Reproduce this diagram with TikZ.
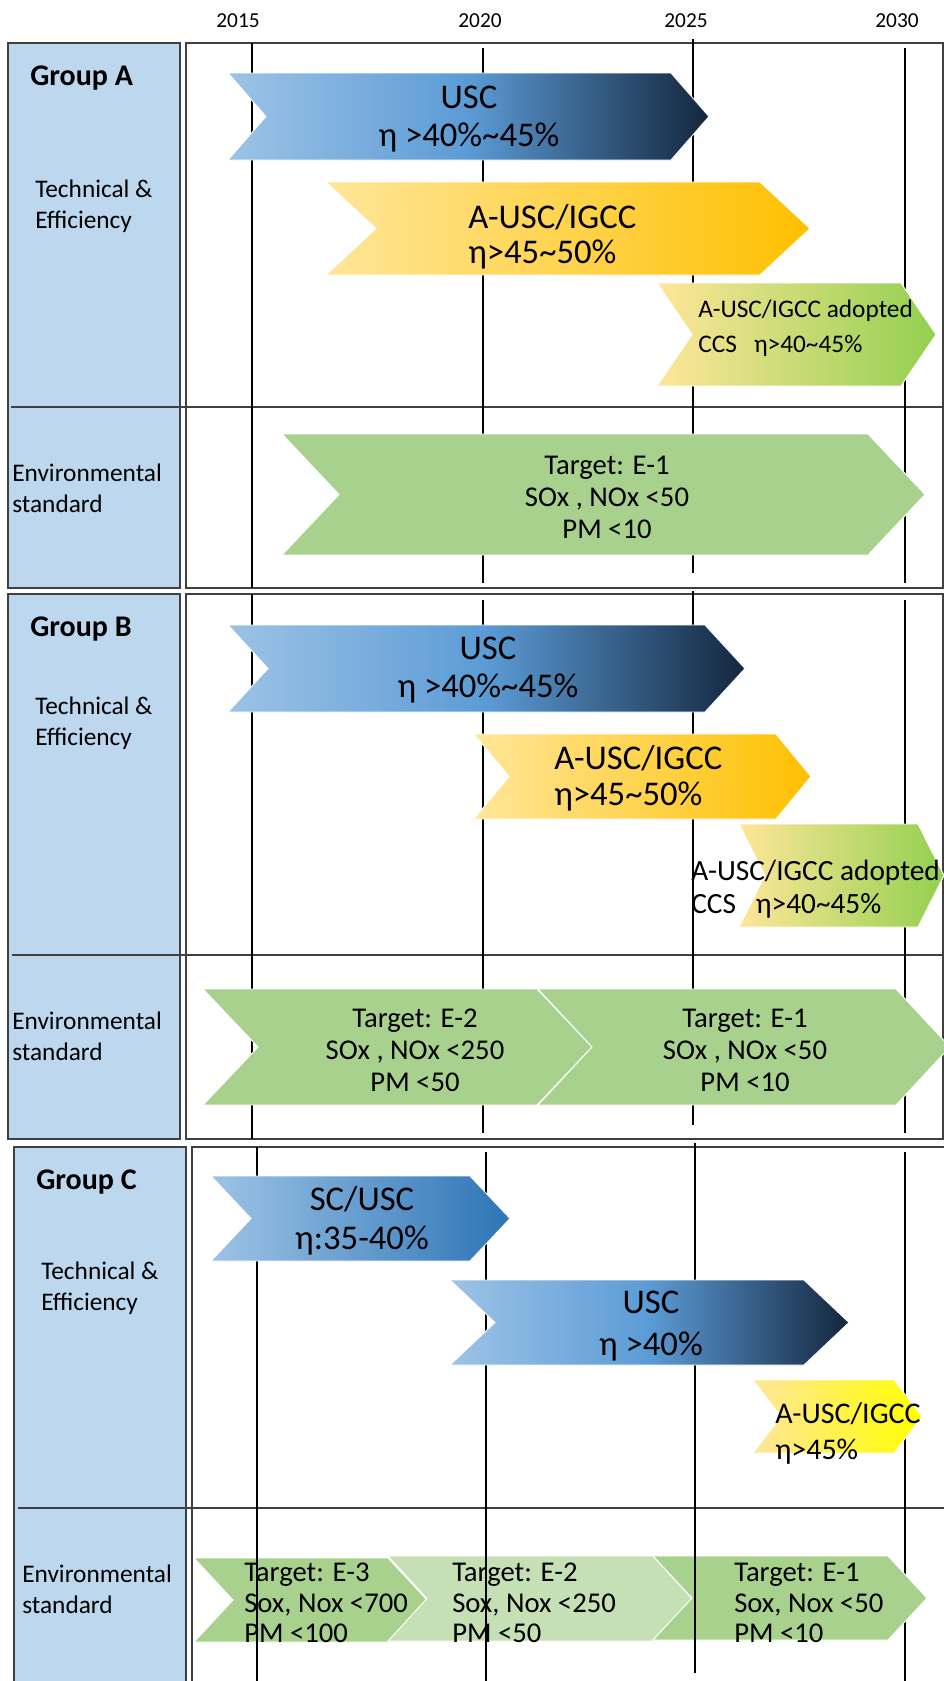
\documentclass[tikz,border=0pt]{standalone}
\usepackage{fontspec}
\setmainfont{Carlito}
\definecolor{panelblue}{RGB}{189,215,238}
\definecolor{framegray}{RGB}{64,64,64}
\definecolor{uscL}{RGB}{157,195,230}
\definecolor{uscM}{RGB}{91,155,213}
\definecolor{uscR}{RGB}{20,38,62}
\definecolor{scR}{RGB}{46,117,182}
\definecolor{ausL}{RGB}{255,230,153}
\definecolor{ausR}{RGB}{255,192,0}
\definecolor{ccsR}{RGB}{146,208,80}
\definecolor{yelR}{RGB}{255,255,0}
\definecolor{envgreen}{RGB}{169,209,142}
\definecolor{envlight}{RGB}{197,224,180}
\tikzset{
	panel/.style = {fill=panelblue, draw=framegray, line width=1.3pt},
	chartbox/.style = {draw=framegray, line width=1.2pt},
	yearline/.style = {draw=black, line width=0.9pt},
	divider/.style = {draw=framegray, line width=1.6pt},
	arrowline/.style = {draw=white, line width=0.7pt},
	usc/.style = {arrowline, left color=uscL, right color=uscR, middle color=uscM},
	scusc/.style = {arrowline, left color=uscL, right color=scR},
	aus/.style = {arrowline, left color=ausL, right color=ausR},
	ausC/.style = {arrowline, left color=ausL, right color=yelR},
	ccs/.style = {arrowline, left color=ausL, right color=ccsR},
	env/.style = {arrowline, fill=envgreen},
	envL/.style = {arrowline, fill=envlight},
	yearlbl/.style = {font=\fontsize{16}{19}\selectfont, inner sep=0},
	grplbl/.style = {font=\bfseries\fontsize{22.5}{27}\selectfont, anchor=west, inner sep=0},
	sidelbl/.style = {font=\fontsize{19}{23.5}\selectfont, align=left, anchor=west, inner sep=0},
	bigtxt/.style = {font=\fontsize{26}{29}\selectfont, align=center, inner sep=0},
	leftbig/.style = {font=\fontsize{26}{26.5}\selectfont, align=left, anchor=west, inner sep=0},
	envtxt/.style = {font=\fontsize{21.5}{24}\selectfont, align=center, inner sep=0},
	envleft/.style = {font=\fontsize{21.5}{23}\selectfont, align=left, anchor=west, inner sep=0}
}
% chevron: [style]{left}{tip}{top}{bottom}{depth}
\newcommand{\chev}[6][]{%
	\path[#1] (#2,#4) -- ({#3-#6},#4) -- (#3,{(#4+#5)/2}) -- ({#3-#6},#5)
		-- (#2,#5) -- ({#2+#6},{(#4+#5)/2}) -- cycle;}

\begin{document}
\begin{tikzpicture}[x=0.75pt,y=-0.75pt]
  \useasboundingbox (0,0) rectangle (944,1681);
  \clip (0,0) rectangle (944,1681);

  % years on top
  \foreach \yr/\xx in {2015/238,2020/480,2025/686,2030/897}
    \node[yearlbl] (y\yr) at (\xx,21) {\yr};

  % group frames and labels
  \foreach \g/\gt/\gb/\dx/\ty/\dv/\dl/\ex in
    {A/43/588/0/206/407/11/12, B/594/1139/0/723/955/12/12, C/1147/1700/6/1288/1508/18/22} {
    \draw[panel] ({8+\dx},\gt) rectangle ({180+\dx},\gb);
    \draw[chartbox] ({186+\dx},\gt) rectangle ({943+\dx},\gb);
    \draw[divider] (\dl,\dv) -- (950,\dv);
    \node[grplbl] (grp\g) at ({30+\dx},{\gt+35}) {Group \g};
    \node[sidelbl] (tech\g) at ({35+\dx},\ty) {Technical \&\\Efficiency};
    \node[sidelbl] (env\g) at (\ex,{\dv+81}) {Environmental\\standard};
  }

  % year grid lines
  \foreach \xx/\yt/\yb in {252/43/588, 483/48/583, 693/39/573, 905/48/583,
      252/594/1139, 483/600/1133, 693/591/1125, 905/600/1133,
      257/1147/1681, 486/1152/1681, 695/1143/1673, 905/1152/1681}
    \draw[yearline] (\xx,\yt) -- (\xx,\yb);

  % Group A
  \chev[usc]{228}{709}{73}{160}{38}
  \node[bigtxt] (uscA) at (469,119) {USC\\η >40\%\textasciitilde45\%};
  \chev[aus]{326}{810}{182}{275}{50}
  \node[leftbig] (ausA) at (468,237) {A-USC/IGCC\\η>45\textasciitilde50\%};
  \chev[ccs]{657}{936}{283}{386}{35}
  \node[sidelbl, font=\fontsize{19}{26}\selectfont] (ccsA) at (698,328)
    {A-USC/IGCC adopted\\CCS\ \ \ η>40\textasciitilde45\%};
  \chev[env]{282}{925}{434}{555}{57}
  \node[envtxt] (envtA) at (607,497) {Target: E-1\\SOx , NOx <50\\PM <10};

  % Group B
  \chev[usc]{228}{745}{625}{712}{40}
  \node[bigtxt] (uscB) at (488,670) {USC\\η >40\%\textasciitilde45\%};
  \chev[aus]{474}{811}{734}{819}{35}
  \node[leftbig, font=\fontsize{26}{27}\selectfont] (ausB) at (554,778) {A-USC/IGCC\\η>45\textasciitilde50\%};
  \chev[ccs]{739}{944}{824}{927}{26}
  \node[sidelbl, font=\fontsize{22}{25}\selectfont] (ccsB) at (691,889)
    {A-USC/IGCC adopted\\CCS\ \ \ η>40\textasciitilde45\%};
  \chev[env]{203}{592}{989}{1105}{55}
  \chev[env]{538}{950}{989}{1105}{54}
  \node[envtxt] (envtB1) at (415,1050) {Target: E-2\\SOx , NOx <250\\PM <50};
  \node[envtxt] (envtB2) at (745,1050) {Target: E-1\\SOx , NOx <50\\PM <10};

  % Group C
  \chev[scusc]{211}{510}{1176}{1261}{40}
  \node[bigtxt] (scC) at (362,1221) {SC/USC\\η:35-40\%};
  \chev[usc]{450}{849}{1280}{1365}{45}
  \node[bigtxt, font=\fontsize{26}{31}\selectfont] (uscC) at (651,1326) {USC\\η >40\%};
  \chev[ausC]{753}{922}{1380}{1453}{28}
  \node[sidelbl, font=\fontsize{22.5}{27}\selectfont] (ausC) at (775,1433) {A-USC/IGCC\\η>45\%};
  \chev[env]{194}{427}{1558}{1642}{39}
  \chev[envL]{388}{692}{1556}{1641}{39}
  \chev[env]{653}{927}{1556}{1640}{39}
  \node[envleft] (envtC1) at (244,1603) {Target: E-3\\Sox, Nox <700\\PM <100};
  \node[envleft] (envtC2) at (452,1603) {Target: E-2\\Sox, Nox <250\\PM <50};
  \node[envleft] (envtC3) at (734,1603) {Target: E-1\\Sox, Nox <50\\PM <10};
  % grid lines run over the lower green arrows
  \foreach \xx/\yb in {257/1681, 486/1681, 695/1673}
    \draw[yearline] (\xx,1508) -- (\xx,\yb);
\end{tikzpicture}
\end{document}
